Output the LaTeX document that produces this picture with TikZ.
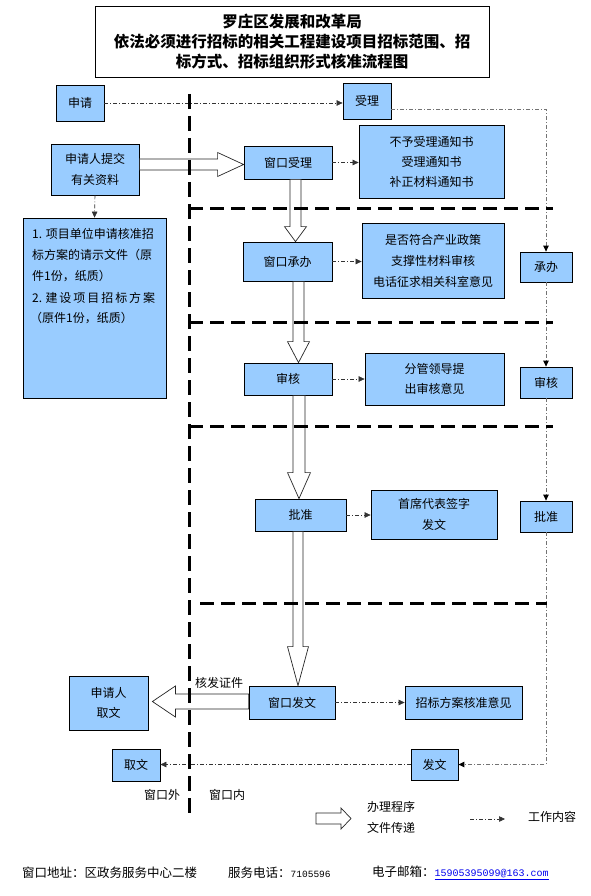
\documentclass[tikz,border=0pt]{standalone}
\usepackage{fontspec}
\setmainfont{Noto Sans CJK SC}
\setmonofont{Liberation Mono}
\usetikzlibrary{arrows.meta,calc}
\definecolor{boxblue}{HTML}{99CCFF}
\definecolor{linkblue}{HTML}{0000EE}
\newcommand\vhollow[6]{%
  \draw[hollow] let \p1=(#2), \p2=(#3) in
  (#1pt-#5pt,\y1) -- (#1pt-#5pt,\y2+#4pt) -- (#1pt-#6pt,\y2+#4pt) -- (#1pt,\y2)
  -- (#1pt+#6pt,\y2+#4pt) -- (#1pt+#5pt,\y2+#4pt) -- (#1pt+#5pt,\y1) -- cycle;}
\newcommand\hhollow[6]{%
  \draw[hollow] let \p1=(#2), \p2=(#3) in
  (\x1,-#1pt+#5pt) -- (\x2#4pt,-#1pt+#5pt) -- (\x2#4pt,-#1pt+#6pt) -- (\x2,-#1pt)
  -- (\x2#4pt,-#1pt-#6pt) -- (\x2#4pt,-#1pt-#5pt) -- (\x1,-#1pt-#5pt) -- cycle;}
\begin{document}
\begin{tikzpicture}[x=1pt,y=-1pt,
  box/.style={draw=black, line width=0.8pt, fill=boxblue, inner sep=0pt, align=center,
    font=\fontsize{12}{21}\selectfont},
  wh/.style 2 args={minimum width=#1pt, minimum height=#2pt},
  txt/.style={inner sep=0pt, font=\fontsize{12}{21}\selectfont},
  dd/.style={draw=black!80, line width=0.6pt, dash pattern=on 4pt off 2pt on 1pt off 2pt},
  ddarr/.style={dd, -{Triangle[length=6pt,width=5.5pt]}},
  ddgray/.style={dd, draw=black!55, line width=0.9pt},
  ddgarr/.style={ddgray, -{Triangle[length=6pt,width=5.5pt,fill=black,color=black]}},
  hollow/.style={draw=black!85, fill=white, line width=0.7pt, line join=miter},
  sepv/.style={line width=3pt, dash pattern=on 15pt off 7pt},
  seph/.style={line width=3pt, dash pattern=on 14pt off 7pt}]
\fill[white] (0,0) rectangle (590,896);
\useasboundingbox (0,0) rectangle (590,896);

% title
\node[draw, line width=0.8pt, wh={394}{71}, inner sep=0pt, align=center,
  font=\bfseries\fontsize{15.5}{20}\selectfont] (title) at (292,41.5)
  {罗庄区发展和改革局\\依法必须进行招标的相关工程建设项目招标范围、招\\标方式、招标组织形式核准流程图};

% boxes
\node[box, wh={48}{36}] (sq) at (80,103) {申请};
\node[box, wh={48}{36}] (sl) at (367,101) {受理};
\node[box, wh={88}{51}] (tj) at (95,169.5) {申请人提交\\有关资料};
\node[box, wh={88}{33}] (ckls) at (288,162.5) {窗口受理};
\node[box, wh={145}{73}] (tz) at (431.5,161.5) {不予受理通知书\\[-1pt]受理通知书\\[-1pt]补正材料通知书};
\node[box, wh={143}{180}] (cl) at (94.5,308) {};
\node[txt, anchor=west] (cl1) at (32,234) {1. 项目单位申请核准招};
\node[txt, anchor=west] (cl2) at (32,255) {标方案的请示文件（原};
\node[txt, anchor=west] (cl3) at (32,276) {件1份，纸质）};
\node[txt, anchor=west] (cl4) at (32,298) {\makebox[123pt][s]{2. 建 设 项 目 招 标 方 案}};
\node[txt, anchor=west] (cl5) at (30,318) {（原件1份，纸质）};
\node[box, wh={89}{39}] (ckcb) at (287.5,261.5) {窗口承办};
\node[box, wh={142}{75}] (sf) at (433,260.5) {是否符合产业政策\\支撑性材料审核\\电话征求相关科室意见};
\node[box, wh={52}{30}] (cb) at (546,267) {承办};
\node[box, wh={88}{32}] (sh) at (288,379) {审核};
\node[box, wh={139}{52}] (fg) at (434.5,379) {分管领导提\\[-1pt]出审核意见};
\node[box, wh={52}{31}] (shr) at (546,382.5) {审核};
\node[box, wh={91}{32}] (pz) at (300.5,515) {批准};
\node[box, wh={126}{49}] (sx) at (434,514.5) {首席代表签字\\发文};
\node[box, wh={52}{31}] (pzr) at (546,516.5) {批准};
\node[box, wh={86}{33}] (ckfw) at (292,702.5) {窗口发文};
\node[box, wh={117}{33}] (zb) at (463.5,702.5) {招标方案核准意见};
\node[box, wh={79}{54}] (sqr) at (108.5,703) {申请人\\[-1pt]取文};
\node[box, wh={48}{32}] (qw) at (136,765) {取文};
\node[box, wh={47}{31}] (fw) at (434.5,764.5) {发文};

% dash-dot connectors
\draw[ddarr] (sq.east) -- (sq.east -| sl.west);
\draw[ddarr] (tj.south) -- (cl.north);
\draw[ddarr] (ckls.east) -- (ckls.east -| tz.west);
\draw[ddarr] (ckcb.east) -- (ckcb.east -| sf.west);
\draw[ddarr] (sh.east) -- (sh.east -| fg.west);
\draw[ddarr] (pz.east) -- (pz.east -| sx.west);
\draw[ddarr] (ckfw.east) -- (ckfw.east -| zb.west);
\draw[ddgarr] ($(sl.east)+(0,8)$) -| (cb.north);
\draw[ddgarr] (cb.south) -- (shr.north);
\draw[ddgarr] (shr.south) -- (pzr.north);
\draw[ddgarr] (pzr.south) |- (fw.east);
\draw[ddarr] (fw.west) -- (fw.west -| qw.east);

% hollow arrows (process flow)
\hhollow{164.5}{tj.east}{ckls.west}{-26}{5.5}{12}
\vhollow{295.5}{ckls.south}{ckcb.north}{15}{5.5}{11}
\vhollow{298.5}{ckcb.south}{sh.north}{21}{5.5}{11}
\vhollow{299}{sh.south}{pz.north}{26}{6}{11.5}
\vhollow{298}{pz.south}{ckfw.north}{39}{5}{10.5}
\hhollow{701.5}{ckfw.west}{$(sqr.east)+(4,0)$}{+23}{7.5}{15.5}
\node[txt] (hf) at (219,683) {核发证件};

% separators
\draw[sepv] (189,94) -- (189,813);
\draw[seph] (189,208) -- (553,208);
\draw[seph] (189,322) -- (553,322);
\draw[seph] (189,426) -- (553,426);
\draw[seph] (200,603) -- (547,603);

\node[txt] (wkw) at (162,795) {窗口外};
\node[txt] (wkn) at (227,795) {窗口内};

% legend
\draw[hollow] (316,813) -- (341,813) -- (341,808) -- (351,818.5) -- (341,829) -- (341,824) -- (316,824) -- cycle;
\node[txt] (lg1) at (391,807) {办理程序};
\node[txt] (lg2) at (391,828) {文件传递};
\coordinate (la) at (470,819);
\coordinate (lb) at (505,819);
\draw[ddarr] (la) -- (lb);
\node[txt] (lg3) at (552,817) {工作内容};

% footer
\node[txt, anchor=west, font=\fontsize{12.5}{14}\selectfont] (f1) at (22,873) {窗口地址：区政务服务中心二楼};
\node[txt, anchor=west, font=\fontsize{12.5}{14}\selectfont] (f2) at (228,873)
  {服务电话：{\ttfamily\fontsize{9.5}{12}\selectfont 7105596}};
\node[txt, anchor=west, font=\fontsize{12.5}{14}\selectfont] (f3) at (372,873)
  {电子邮箱：\textcolor{linkblue}{\underline{\ttfamily\fontsize{10}{12}\selectfont 15905395099@163.com}}};
\end{tikzpicture}
\end{document}
